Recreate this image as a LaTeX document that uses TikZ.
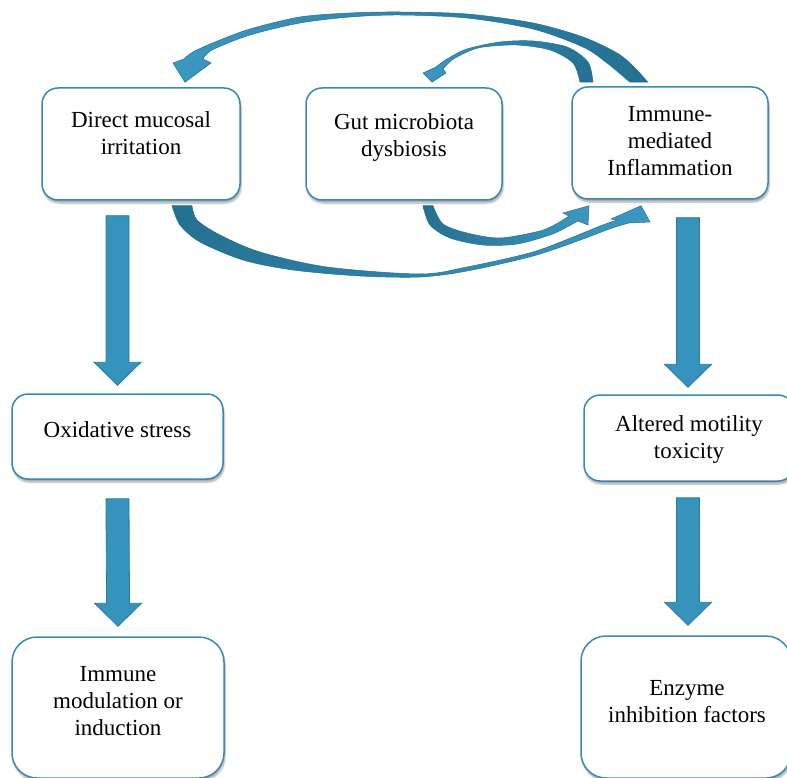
\documentclass[tikz,border=0pt]{standalone}
\usepackage{fontspec}
\setmainfont{Liberation Serif}
\usepackage{tikz}
\usetikzlibrary{calc}
\usetikzlibrary{shadows.blur}

\definecolor{boxline}{RGB}{56,138,178}
\definecolor{arrowfill}{RGB}{54,147,188}
\definecolor{arrowline}{RGB}{40,122,160}
\definecolor{arcdark}{RGB}{36,112,145}
\definecolor{arclight}{RGB}{60,152,192}

\tikzset{
	box/.style={draw=boxline, line width=1.5pt, fill=white, rounded corners=16pt,
		blur shadow={shadow xshift=1pt, shadow yshift=-3pt, shadow blur steps=6, shadow opacity=35}},
	boxtxt/.style={anchor=north, align=center, inner sep=0pt, font=\fontsize{23}{27}\selectfont},
	fatarrow/.style={fill=arrowfill, draw=arrowline, line width=0.8pt, line join=miter},
	arcarrow/.style={draw=arcdark, line width=0.5pt}
}

% straight block arrow from #1 (top of shaft) to #2 (tip)
\newcommand{\fatarrow}[2]{%
	\filldraw[fatarrow] ($(#1)+(-11.5,0)$) -- ($(#2)+(-11.5,-23)$) -- ($(#2)+(-23.5,-23)$) -- (#2)
		-- ($(#2)+(23.5,-23)$) -- ($(#2)+(11.5,-23)$) -- ($(#1)+(11.5,0)$) -- cycle;}

\begin{document}
\begin{tikzpicture}[x=1pt,y=-1pt]
	\useasboundingbox (0,0) rectangle (787,778);

	% boxes
	\node[box, minimum width=198pt, minimum height=112pt] (dmi) at (141,144) {};
	\node[box, minimum width=196pt, minimum height=112pt] (gms) at (404,144) {};
	\node[box, minimum width=196pt, minimum height=112pt] (imm) at (670,143) {};
	\node[box, minimum width=211pt, minimum height=85pt] (ox) at (117.5,436.5) {};
	\node[box, minimum width=210pt, minimum height=86pt] (amt) at (689,438) {};
	\node[box, rounded corners=25pt, minimum width=212pt, minimum height=141pt] (imo) at (118,707.5) {};
	\node[box, rounded corners=25pt, minimum width=210pt, minimum height=142pt] (enz) at (686,707) {};

	\node[boxtxt] (dmi-t) at ($(dmi.north)+(0,24)$) {Direct mucosal\\irritation};
	\node[boxtxt] (gms-t) at ($(gms.north)+(0,26)$) {Gut microbiota\\dysbiosis};
	\node[boxtxt] (imm-t) at ($(imm.north)+(0,20)$) {Immune-\\mediated\\Inflammation};
	\node[boxtxt] (ox-t) at ($(ox.north)+(0,28)$) {Oxidative stress};
	\node[boxtxt] (amt-t) at ($(amt.north)+(0,21)$) {Altered motility\\toxicity};
	\node[boxtxt] (imo-t) at ($(imo.north)+(0,30)$) {Immune\\modulation or\\induction};
	\node[boxtxt] (enz-t) at ($(enz.north)+(1,45)$) {Enzyme\\inhibition factors};

	% straight arrows
	\coordinate (l1a) at ($(dmi.south -| ox.north)+(0,15)$);
	\coordinate (l1b) at ($(ox.north)+(0,-8)$);
	\coordinate (l2a) at ($(ox.south)+(0,19)$);
	\coordinate (l2b) at ($(imo.north)+(0,-10)$);
	\coordinate (r1a) at ($(imm.south -| amt.north)+(-1,18)$);
	\coordinate (r1b) at ($(amt.north)+(-1,-7)$);
	\coordinate (r2a) at ($(amt.south)+(-1,16)$);
	\coordinate (r2b) at ($(enz.north)+(2,-10)$);
	\fatarrow{l1a}{l1b}
	\fatarrow{l2a}{l2b}
	\fatarrow{r1a}{r1b}
	\fatarrow{r2a}{r2b}

	% top long arc: inflammation -> mucosal irritation
	\coordinate (aS1) at ($(imm.north)+(-22,-4)$);
	\coordinate (aS2) at ($(imm.north)+(-40,-4)$);
	\coordinate (aT) at ($(dmi.north)+(44,-5)$);
	\shadedraw[arcarrow, left color=arclight, right color=arcdark]
		plot[smooth] coordinates {(aS1) (633,66) (617,53) (583,37) (533,23) (467,14) (400,12) (350,13) (300,17) (250,29) (215,42) (193,52) (184,59)}
		-- (173,63) -- (aT) -- (211,63)
		-- plot[smooth] coordinates {(203,59) (212,50) (250,35) (300,23) (350,17) (400,15) (467,18) (533,29) (583,47) (607,63) (aS2)} -- cycle;

	% top short arc: inflammation -> dysbiosis
	\coordinate (bS1) at ($(imm.north)+(-77,-4)$);
	\coordinate (bS2) at ($(imm.north)+(-90,-4)$);
	\coordinate (bT) at ($(gms.north)+(28,-5)$);
	\shadedraw[arcarrow, left color=arclight, right color=arcdark]
		plot[smooth] coordinates {(bS1) (588,62) (567,47) (533,41) (500,42) (467,49) (447,59) (436,67)}
		-- (423,73) -- (bT) -- (446,73)
		-- plot[smooth] coordinates {(443,69) (452,60) (467,52) (483,47) (517,45) (550,50) (573,63) (bS2)} -- cycle;

	% bottom long arc: mucosal irritation -> inflammation
	\coordinate (cS1) at ($(dmi.south)+(31,5)$);
	\coordinate (cS2) at ($(dmi.south)+(51,5)$);
	\coordinate (cT) at ($(imm.south)+(-29,6)$);
	\shadedraw[arcarrow, left color=arcdark, right color=arclight]
		plot[smooth] coordinates {(cS1) (180,225) (200,242) (243,260) (293,270) (360,276) (420,277) (467,271) (533,256) (583,239) (612,228) (629,223)}
		-- (650,222) -- (cT) -- (611,219)
		-- plot[smooth] coordinates {(617,220) (600,226) (583,233) (533,252) (467,267) (420,274) (327,267) (260,252) (220,235) (197,220) (cS2)} -- cycle;

	% bottom short arc: dysbiosis -> inflammation
	\coordinate (dS1) at ($(gms.south)+(19,5)$);
	\coordinate (dS2) at ($(gms.south)+(29,5)$);
	\coordinate (dT) at ($(imm.south)+(-81,6)$);
	\shadedraw[arcarrow, left color=arcdark, right color=arclight]
		plot[smooth] coordinates {(dS1) (430,225) (450,238) (483,245) (517,244) (550,235) (565,228) (578,221)}
		-- (588,225) -- (dT) -- (563,213)
		-- plot[smooth] coordinates {(569,216) (558,223) (540,231) (500,238) (467,233) (443,224) (dS2)} -- cycle;
\end{tikzpicture}
\end{document}
